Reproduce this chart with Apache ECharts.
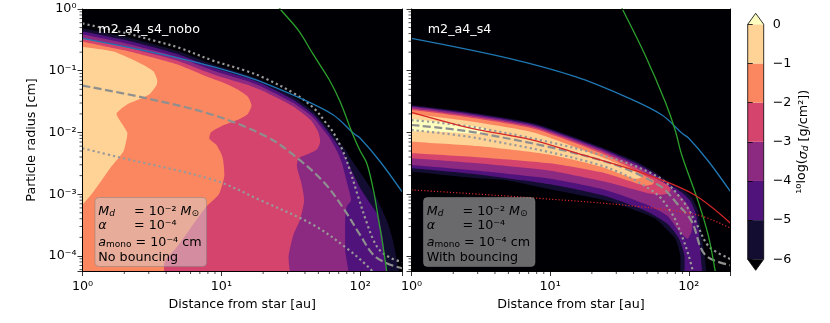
<!DOCTYPE html>
<html>
<head>
<meta charset="utf-8">
<script src="https://cdn.jsdelivr.net/npm/echarts@6/dist/echarts.min.js"></script>
<style>
  html, body { margin: 0; padding: 0; background: #fff; }
  #chart { width: 830px; height: 323px; }
</style>
</head>
<body>
<div id="chart"></div>
<script>
"use strict";
// axis ranges
var xMin = 1, xMax = 200, yMin = 5.7e-5, yMax = 1;
var xMinorTicks = [2, 3, 4, 5, 6, 7, 8, 9, 20, 30, 40, 50, 60, 70, 80, 90];
var yMinorTicks = [6e-5, 7e-5, 8e-5, 9e-5, 2e-4, 3e-4, 4e-4, 5e-4, 6e-4, 7e-4, 8e-4, 9e-4,
  2e-3, 3e-3, 4e-3, 5e-3, 6e-3, 7e-3, 8e-3, 9e-3, 0.02, 0.03, 0.04, 0.05, 0.06, 0.07, 0.08, 0.09,
  0.2, 0.3, 0.4, 0.5, 0.6, 0.7, 0.8, 0.9];

// colour levels of log10(sigma_d)
var cbLevels = [-6, -5, -4, -3, -2, -1];
var cbColors = ['#120d31', '#50127b', '#8c2981', '#d4446d', '#fb8761', '#fed395'];
var overColor = '#fcfdbf', underColor = '#000004';

// all points: [distance au, log10(radius cm)]
// ---- m2_a4_s4_nobo : regions where log sigma >= level
var noboGeM6 = [[0.8,-0.25],[1,-0.31],[2,-0.45],[3.5,-0.59],[5,-0.69],[8.8,-0.9],[15,-1.06],[20,-1.17],[33,-1.42],[46,-1.66],[57,-1.9],[64,-2.04],[76,-2.24],[90,-2.5],[111,-2.8],[130,-3.05],[147,-3.3],[160,-3.5],[172,-3.75],[183,-4.06],[190,-4.6],[0.5,-4.8]];
var noboGeM5 = [[0.8,-0.3],[1,-0.36],[2,-0.5],[3.5,-0.64],[5,-0.74],[8.8,-0.95],[15,-1.11],[20,-1.22],[33,-1.47],[46,-1.71],[57,-1.95],[64,-2.1],[76,-2.34],[86,-2.6],[100,-2.9],[118,-3.15],[135,-3.35],[145,-3.7],[150,-4.0],[152,-4.6],[0.5,-4.8]];
var noboGeM4 = [[0.8,-0.35],[1,-0.41],[2,-0.55],[3.5,-0.69],[5,-0.79],[8.8,-1.0],[15,-1.16],[20,-1.27],[33,-1.52],[46,-1.76],[54,-1.95],[60,-2.08],[68,-2.3],[74,-2.5],[80,-2.8],[86,-3.1],[80,-3.2],[78,-3.4],[78,-3.9],[80,-4.6],[0.5,-4.8]];
var noboGeM3 = [[0.8,-0.41],[1,-0.47],[2,-0.61],[3.5,-0.75],[5,-0.85],[8.8,-1.06],[15,-1.22],[20,-1.33],[33,-1.58],[44,-1.8],[50,-2.0],[51.5,-2.15],[49,-2.27],[42,-2.35],[36,-2.42],[35,-2.55],[37.5,-2.8],[39.5,-3.1],[37,-3.4],[33,-3.66],[30.5,-4.0],[30,-4.6],[0.5,-4.8]];
var noboGeM2 = [[0.8,-0.49],[1,-0.53],[2,-0.67],[3.5,-0.81],[5,-0.91],[8,-1.1],[10,-1.18],[13,-1.3],[15.5,-1.42],[16.5,-1.56],[15.5,-1.7],[13,-1.8],[10,-1.9],[8.4,-2.0],[8.2,-2.1],[9.2,-2.2],[10.2,-2.4],[10.5,-2.7],[9.6,-3.0],[7.8,-3.2],[6.0,-3.55],[4.8,-3.85],[3.9,-4.1],[3.7,-4.6],[0.5,-4.8]];
var noboGeM1 = [[0.8,-0.58],[1,-0.61],[1.67,-0.69],[2.6,-0.88],[3.24,-1.01],[3.45,-1.15],[3.42,-1.23],[3.0,-1.39],[2.08,-1.55],[1.76,-1.69],[1.85,-1.8],[2.1,-2.0],[2.08,-2.1],[1.97,-2.31],[1.58,-2.58],[1.2,-2.96],[1.0,-3.17],[0.8,-3.4],[0.5,-3.4]];

var noboBlue = [[1,-0.475],[5.04,-0.799],[15.2,-1.096],[34.9,-1.42],[64,-1.717],[89.4,-2.013],[100,-2.094],[139,-2.47],[200,-2.96]];
var noboGreen = [[24.6,0.1],[26.5,0],[36,-0.35],[46,-0.74],[60,-1.15],[71.6,-1.5],[88,-2.02],[100,-2.3],[111.5,-2.5],[125,-2.95],[135,-3.39],[145,-3.8],[155,-4.24],[158,-4.4]];
var noboDotUpper = [[1,-0.235],[2,-0.385],[3.5,-0.53],[5,-0.63],[8.8,-0.84],[15,-1.0],[20,-1.11],[33,-1.36],[46,-1.6],[57,-1.85],[64,-2.0],[75,-2.3],[84,-2.6],[97,-3.05],[111,-3.45],[125,-3.75],[140,-3.92],[165,-4.03],[200,-4.1]];
var noboDash = [[1,-1.24],[2.9,-1.447],[8.76,-1.717],[21.2,-2.068],[33,-2.364],[54.3,-2.797],[75.7,-3.228],[99.8,-3.66],[124.5,-3.984],[155,-4.118],[200,-4.2]];
var noboDotLower = [[1,-2.256],[1.76,-2.392],[8.76,-2.769],[20.1,-3.12],[46,-3.498],[80,-3.876],[117,-4.2],[131,-4.35]];

// ---- m2_a4_s4 : regions where log sigma >= level
var s4GeM6 = [[0.8,-1.545],[1,-1.555],[2.5,-1.663],[7.6,-1.85],[23,-2.23],[40,-2.45],[53,-2.6],[70,-2.78],[91,-2.93],[105,-3.05],[117,-3.28],[124,-3.66],[130,-4.0],[134,-4.6],[89,-4.6],[87,-4.0],[80,-3.72],[70,-3.58],[57,-3.39],[40,-3.25],[25,-3.1],[10,-2.92],[4.7,-2.77],[3,-2.74],[1,-2.635],[0.8,-2.62]];
var s4GeM5 = [[0.8,-1.56],[1,-1.57],[2.5,-1.68],[7.6,-1.87],[23,-2.25],[40,-2.48],[53,-2.63],[70,-2.82],[90,-2.98],[102,-3.1],[112,-3.3],[118,-3.6],[122,-4.0],[125,-4.6],[95,-4.6],[93,-4.0],[85,-3.72],[70,-3.48],[50,-3.28],[25,-3.03],[10,-2.84],[3,-2.68],[1,-2.58],[0.8,-2.57]];
var s4GeM4 = [[0.8,-1.575],[1,-1.585],[2.5,-1.7],[7.6,-1.89],[23,-2.27],[40,-2.51],[53,-2.66],[70,-2.86],[88,-3.04],[100,-3.2],[106,-3.4],[105,-3.6],[98,-3.72],[85,-3.6],[70,-3.35],[50,-3.17],[25,-2.93],[10,-2.75],[3,-2.62],[1,-2.526],[0.8,-2.52]];
var s4GeM3 = [[0.8,-1.6],[1,-1.61],[2.5,-1.725],[7.6,-1.915],[23,-2.3],[40,-2.55],[53,-2.7],[64,-2.8],[71,-2.86],[74,-2.93],[71,-2.99],[62,-3.01],[50,-2.98],[25,-2.8],[10,-2.62],[3,-2.5],[1,-2.418],[0.8,-2.41]];
var s4GeM2 = [[0.8,-1.63],[1,-1.636],[2.5,-1.75],[7.6,-1.94],[23,-2.33],[40,-2.6],[50,-2.72],[56,-2.78],[55,-2.84],[48,-2.86],[25,-2.66],[10,-2.5],[3,-2.4],[1,-2.337],[0.8,-2.33]];
var s4GeM1 = [[0.8,-1.69],[1,-1.7],[2.5,-1.81],[7.6,-2.0],[23,-2.39],[35,-2.56],[43,-2.66],[46,-2.72],[41,-2.75],[23,-2.55],[10,-2.36],[3,-2.22],[1,-2.149],[0.8,-2.14]];
var s4Ge0 = [[0.8,-1.77],[1,-1.78],[2,-1.85],[3,-1.91],[3.6,-1.96],[3,-2.02],[2,-2.0],[1,-1.98],[0.8,-1.975]];

var s4Blue = noboBlue;
var s4Green = [[31.6,0.1],[33.2,0],[48.4,-0.745],[67.5,-1.5],[79.7,-1.96],[89,-2.364],[117,-3.12],[138,-3.66],[155,-4.24],[158,-4.4]];
var s4Red = [[1,-1.673],[2.72,-1.932],[7.36,-2.12],[14.3,-2.31],[43.3,-2.635],[105,-2.985],[200,-3.47]];
var s4RedDot = [[1,-2.93],[8.2,-3.066],[43.3,-3.2],[117,-3.34],[200,-3.55]];
var s4Dash = [[1,-1.879],[3.12,-2.013],[22.9,-2.445],[60.4,-2.85],[84,-3.174],[105,-3.44],[131,-3.98],[200,-4.15]];
var s4DotUpper = [[1,-1.8],[3.12,-1.93],[22.9,-2.36],[60,-2.72],[90,-3.1],[115,-3.5],[140,-3.85],[200,-4.05]];
var s4DotLower = [[1,-1.96],[3.12,-2.1],[22.9,-2.53],[55,-2.95],[75,-3.3],[90,-3.7],[100,-4.0],[110,-4.35]];

var FONT = 'DejaVu Sans';
var FS = 12.7;
var supMap = {'-': '\u207b', '0': '\u2070', '1': '\u00b9', '2': '\u00b2', '3': '\u00b3', '4': '\u2074'};

function powLabel(v) {
  var e = Math.log10(v), r = Math.round(e);
  if (Math.abs(e - r) > 1e-6) return '';
  return '10' + String(r).split('').map(function (c) { return supMap[c]; }).join('');
}

function toXY(pts) {
  return pts.map(function (p) { return [p[0], Math.pow(10, p[1])]; });
}

function regionSeries(idx, pts, color) {
  return {
    type: 'custom', xAxisIndex: idx, yAxisIndex: idx, silent: true, z: 2,
    data: [[1, 1]],
    renderItem: function (params, api) {
      var cs = params.coordSys;
      var p = pts.map(function (d) { return api.coord([d[0], Math.pow(10, d[1])]); });
      return {
        type: 'polygon', shape: { points: p, smooth: 0.2 }, style: { fill: color },
        clipPath: { type: 'rect', shape: { x: cs.x, y: cs.y, width: cs.width, height: cs.height } }
      };
    }
  };
}

function lineSeries(idx, pts, color, width, dash) {
  return {
    type: 'line', xAxisIndex: idx, yAxisIndex: idx, data: toXY(pts), smooth: 0.35,
    symbol: 'none', silent: true, clip: true, z: 3,
    lineStyle: { color: color, width: width, type: dash || 'solid', cap: 'butt' }
  };
}

function minorSeries(idx) {
  var data = xMinorTicks.map(function (v) { return [v, yMin, 0]; })
    .concat(yMinorTicks.map(function (v) { return [xMin, v, 1]; }));
  return {
    type: 'custom', xAxisIndex: idx, yAxisIndex: idx, silent: true, z: 6, clip: false,
    data: data,
    renderItem: function (params, api) {
      var p = api.coord([api.value(0), api.value(1)]);
      var horiz = api.value(2) === 1;
      return {
        type: 'line',
        shape: horiz ? { x1: p[0] - 3, y1: p[1], x2: p[0], y2: p[1] } : { x1: p[0], y1: p[1], x2: p[0], y2: p[1] + 3 },
        style: { stroke: '#000', lineWidth: 0.7 }
      };
    }
  };
}

function panelX(idx) {
  return {
    type: 'log', logBase: 10, gridIndex: idx, min: xMin, max: xMax, z: 5,
    name: 'Distance from star [au]', nameLocation: 'middle', nameGap: 23,
    nameTextStyle: { fontSize: FS, color: '#000', fontFamily: FONT },
    axisLine: { show: true, onZero: false, lineStyle: { color: '#000', width: 1 } },
    axisTick: { show: true, length: 5, lineStyle: { color: '#000', width: 0.8 } },
    axisLabel: { fontSize: FS, color: '#000', fontFamily: FONT, margin: 9, formatter: powLabel },
    splitLine: { show: false }
  };
}

function panelY(idx, labels) {
  var a = {
    type: 'log', logBase: 10, gridIndex: idx, min: yMin, max: yMax, z: 5,
    axisLine: { show: true, onZero: false, lineStyle: { color: '#000', width: 1 } },
    axisTick: { show: true, length: 5, lineStyle: { color: '#000', width: 0.8 } },
    axisLabel: { show: labels, fontSize: FS, color: '#000', fontFamily: FONT, margin: 6, formatter: powLabel },
    splitLine: { show: false }
  };
  if (labels) {
    a.name = 'Particle radius [cm]';
    a.nameLocation = 'middle';
    a.nameGap = 44;
    a.nameTextStyle = { fontSize: FS, color: '#000', fontFamily: FONT };
  }
  return a;
}

function frameAxis(kind, idx) {
  return {
    type: 'log', logBase: 10, gridIndex: idx, z: 5,
    position: kind === 'x' ? 'top' : 'right',
    min: kind === 'x' ? xMin : yMin, max: kind === 'x' ? xMax : yMax,
    axisLine: { show: true, onZero: false, lineStyle: { color: '#000', width: 1 } },
    axisTick: { show: false }, axisLabel: { show: false }, splitLine: { show: false }
  };
}

var series = [];
[noboGeM6, noboGeM5, noboGeM4, noboGeM3, noboGeM2, noboGeM1].forEach(function (r, i) {
  series.push(regionSeries(0, r, cbColors[i]));
});
[s4GeM6, s4GeM5, s4GeM4, s4GeM3, s4GeM2, s4GeM1, s4Ge0].forEach(function (r, i) {
  series.push(regionSeries(1, r, i < 6 ? cbColors[i] : overColor));
});

var grayDot = [2.2, 3];
var grayDash = [8, 3.5];
series.push(lineSeries(0, noboDash, '#8f8f8f', 2.2, grayDash));
series.push(lineSeries(0, noboDotUpper, '#999999', 2.2, grayDot));
series.push(lineSeries(0, noboDotLower, '#999999', 2.2, grayDot));
series.push(lineSeries(0, noboBlue, '#1f77b4', 1.3));
series.push(lineSeries(0, noboGreen, '#2ca02c', 1.3));

series.push(lineSeries(1, s4Dash, '#8f8f8f', 2.2, grayDash));
series.push(lineSeries(1, s4DotUpper, '#999999', 2.2, grayDot));
series.push(lineSeries(1, s4DotLower, '#999999', 2.2, grayDot));
series.push(lineSeries(1, s4Blue, '#1f77b4', 1.3));
series.push(lineSeries(1, s4Green, '#2ca02c', 1.3));
series.push(lineSeries(1, s4Red, '#d62728', 1.3));
series.push(lineSeries(1, s4RedDot, '#d62728', 1.2, [1.2, 2]));

series.push(minorSeries(0));
series.push(minorSeries(1));

// colorbar bands
series.push({
  type: 'custom', xAxisIndex: 2, yAxisIndex: 2, silent: true, z: 2,
  data: cbLevels.map(function (l, i) { return [l, i]; }),
  renderItem: function (params, api) {
    var lv = api.value(0);
    var a = api.coord([0, lv + 1]), b = api.coord([1, lv]);
    return { type: 'rect', shape: { x: a[0], y: a[1], width: b[0] - a[0], height: b[1] - a[1] },
      style: { fill: cbColors[api.value(1)] } };
  }
});
// colorbar extend triangles and outline
series.push({
  type: 'custom', xAxisIndex: 2, yAxisIndex: 2, silent: true, z: 3, clip: false,
  data: [[0, 0]],
  renderItem: function (params, api) {
    var tl = api.coord([0, 0]), tr = api.coord([1, 0]);
    var bl = api.coord([0, -6]), br = api.coord([1, -6]);
    var mx = (tl[0] + tr[0]) / 2, tip = 11;
    var outline = [tl, [mx, tl[1] - tip], tr, br, [mx, bl[1] + tip], bl];
    return { type: 'group', children: [
      { type: 'polygon', shape: { points: [tl, [mx, tl[1] - tip], tr] }, style: { fill: overColor } },
      { type: 'polygon', shape: { points: [bl, br, [mx, bl[1] + tip]] }, style: { fill: underColor } },
      { type: 'polygon', shape: { points: outline }, style: { fill: 'none', stroke: '#000', lineWidth: 0.8 } }
    ] };
  }
});

var rich = {
  i: { fontSize: FS, fontStyle: 'italic', fontFamily: FONT, verticalAlign: 'bottom', lineHeight: 16 },
  n: { fontSize: FS, fontFamily: FONT, verticalAlign: 'bottom', lineHeight: 16 },
  s: { fontSize: 9, fontFamily: FONT, verticalAlign: 'bottom', lineHeight: 13 },
  si: { fontSize: 9, fontStyle: 'italic', fontFamily: FONT, verticalAlign: 'bottom', lineHeight: 13 }
};

function boxTexts(x0, y0, lastLine) {
  var xs = x0 + 3.3, xe = x0 + 39;
  var lines = [
    { x: xs, y: y0 + 13, t: '{i|M}{si|d}' },
    { x: xe, y: y0 + 13, t: '{n|= 10\u207b\u00b2}{i| M}{s|\u2299}' },
    { x: xs, y: y0 + 27, t: '{i|\u03b1}' },
    { x: xe, y: y0 + 27, t: '{n|= 10\u207b\u2074}' },
    { x: xs, y: y0 + 43.5, t: '{i|a}{s|mono}{n| = 10\u207b\u2074 cm}' },
    { x: xs, y: y0 + 58.5, t: '{n|' + lastLine + '}' }
  ];
  return lines.map(function (l) {
    return { type: 'text', x: l.x, y: l.y, z: 20,
      style: { text: l.t, rich: rich, fill: '#000', verticalAlign: 'middle', align: 'left', fontSize: FS, fontFamily: FONT } };
  });
}

var graphics = [
  { type: 'rect', z: 19, shape: { x: 95, y: 197.5, width: 111.5, height: 69, r: 4 },
    style: { fill: 'rgba(211,211,211,0.5)', stroke: 'rgba(128,128,128,0.5)', lineWidth: 1 } },
  { type: 'rect', z: 19, shape: { x: 423.5, y: 197.5, width: 111.5, height: 69, r: 4 },
    style: { fill: 'rgba(211,211,211,0.5)', stroke: 'rgba(128,128,128,0.5)', lineWidth: 1 } },
  { type: 'text', x: 98.3, y: 30, z: 20, style: { text: 'm2_a4_s4_nobo', fill: '#fff', fontSize: FS, fontFamily: FONT, verticalAlign: 'middle' } },
  { type: 'text', x: 427.7, y: 30, z: 20, style: { text: 'm2_a4_s4', fill: '#fff', fontSize: FS, fontFamily: FONT, verticalAlign: 'middle' } }
].concat(boxTexts(95, 197.5, 'No bouncing'), boxTexts(423.5, 197.5, 'With bouncing'));

var chart = echarts.init(document.getElementById('chart'), null, { renderer: 'canvas' });
chart.setOption({
  animation: false,
  backgroundColor: '#fff',
  textStyle: { fontFamily: FONT },
  grid: [
    { left: 82.5, top: 9, width: 319.5, height: 262, show: true, backgroundColor: underColor, borderWidth: 0 },
    { left: 411.5, top: 9, width: 319, height: 262, show: true, backgroundColor: underColor, borderWidth: 0 },
    { left: 747.7, top: 24.3, width: 16, height: 235 }
  ],
  xAxis: [
    panelX(0), panelX(1),
    { type: 'value', gridIndex: 2, min: 0, max: 1, show: false },
    frameAxis('x', 0), frameAxis('x', 1)
  ],
  yAxis: [
    panelY(0, true), panelY(1, false),
    { type: 'value', gridIndex: 2, min: -6, max: 0, interval: 1, position: 'right', z: 5,
      axisLine: { show: false },
      axisTick: { show: true, length: 5, lineStyle: { color: '#000', width: 0.8 } },
      axisLabel: { fontSize: FS, color: '#000', fontFamily: FONT, margin: 9,
        formatter: function (v) { return v === 0 ? '0' : '\u2212' + Math.abs(v); } },
      splitLine: { show: false },
      name: '\u00b9\u2070log({i|\u03c3}{si|d}{n| [g/cm\u00b2])}', nameLocation: 'middle', nameRotate: 90, nameGap: 30,
      nameTextStyle: { fontSize: FS, color: '#000', fontFamily: FONT, rich: rich } },
    frameAxis('y', 0), frameAxis('y', 1)
  ],
  series: series,
  graphic: graphics
});
</script>
</body>
</html>
